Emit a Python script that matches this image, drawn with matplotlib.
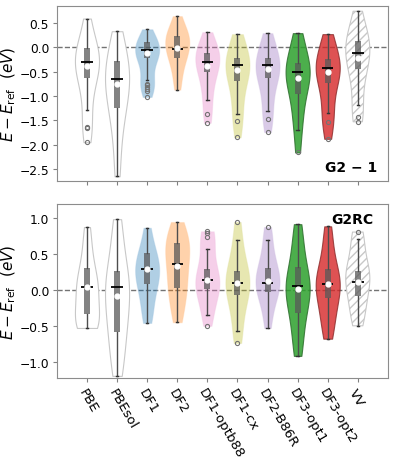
import numpy as np
import matplotlib
matplotlib.use("Agg")
import matplotlib.pyplot as plt

# functionals on the x axis
methods = ["PBE", "PBEsol", "DF1", "DF2", "DF1-optb88", "DF1-cx",
           "DF2-B86R", "DF3-opt1", "DF3-opt2", "VV"]

# ---------------- G2-1 (top panel) ----------------
g21_samples = [
    [0.59, 0.35, 0.1, 0.0, -0.05, -0.15, -0.25, -0.3, -0.35, -0.45, -0.55, -0.65, -0.8, -1.0, -1.29, -1.63, -1.65, -1.95],
    [0.33, 0.1, -0.1, -0.3, -0.4, -0.55, -0.65, -0.75, -0.9, -1.05, -1.25, -1.4, -1.7, -2.1, -2.65],
    [0.37, 0.25, 0.15, 0.1, 0.05, 0.0, -0.05, -0.1, -0.15, -0.2, -0.25, -0.35, -0.5, -0.67, -0.75, -0.8, -0.88, -1.02],
    [0.64, 0.45, 0.3, 0.25, 0.2, 0.1, 0.0, -0.05, -0.15, -0.25, -0.4, -0.6, -0.87],
    [0.31, 0.1, 0.0, -0.1, -0.15, -0.2, -0.3, -0.35, -0.45, -0.55, -0.7, -0.9, -1.09, -1.37, -1.55],
    [0.27, 0.1, -0.05, -0.2, -0.25, -0.35, -0.4, -0.5, -0.6, -0.7, -0.9, -1.1, -1.38, -1.52, -1.85],
    [0.29, 0.1, -0.05, -0.2, -0.25, -0.35, -0.4, -0.5, -0.6, -0.65, -0.85, -1.05, -1.3, -1.47, -1.74],
    [0.29, 0.1, -0.1, -0.3, -0.35, -0.45, -0.5, -0.6, -0.7, -0.85, -0.95, -1.2, -1.45, -1.69, -2.16],
    [0.27, 0.1, -0.1, -0.2, -0.3, -0.4, -0.45, -0.55, -0.65, -0.75, -0.95, -1.2, -1.45, -1.53, -1.88],
    [0.74, 0.5, 0.3, 0.15, 0.1, 0.0, -0.1, -0.2, -0.3, -0.45, -0.6, -0.85, -1.19, -1.43, -1.53],
]
g21_q1 = [-0.63, -1.25, -0.23, -0.23, -0.51, -0.70, -0.64, -0.96, -0.74, -0.45]
g21_med = [-0.31, -0.65, -0.06, -0.03, -0.30, -0.37, -0.37, -0.51, -0.43, -0.11]
g21_q3 = [-0.02, -0.29, 0.10, 0.24, -0.12, -0.21, -0.21, -0.33, -0.24, 0.12]
g21_lo = [-1.29, -2.65, -0.67, -0.87, -1.09, -1.38, -1.30, -1.69, -1.35, -1.19]
g21_hi = [0.59, 0.33, 0.37, 0.64, 0.31, 0.27, 0.29, 0.29, 0.27, 0.74]
g21_mean = [-0.38, -0.75, -0.12, -0.02, -0.38, -0.47, -0.45, -0.63, -0.51, -0.22]
g21_fliers = [[-1.63, -1.66, -1.95], [], [-0.75, -0.78, -0.82, -0.86, -0.90, -1.02], [],
              [-1.37, -1.55], [-1.52, -1.85], [-1.47, -1.74], [-2.16], [-1.53, -1.88], [-1.43, -1.53]]

# ---------------- G2RC (bottom panel) ----------------
g2rc_samples = [
    [0.88, 0.65, 0.45, 0.3, 0.2, 0.1, 0.05, 0.0, -0.1, -0.2, -0.3, -0.38, -0.45, -0.5, -0.53, -0.53],
    [0.99, 0.75, 0.5, 0.3, 0.2, 0.1, 0.0, -0.1, -0.2, -0.35, -0.5, -0.6, -0.8, -1.0, -1.2],
    [0.87, 0.65, 0.52, 0.45, 0.35, 0.3, 0.25, 0.15, 0.08, 0.0, -0.15, -0.3, -0.46],
    [0.95, 0.8, 0.7, 0.65, 0.55, 0.45, 0.37, 0.25, 0.1, 0.03, -0.1, -0.25, -0.45],
    [0.82, 0.79, 0.74, 0.58, 0.4, 0.29, 0.2, 0.15, 0.1, 0.05, 0.01, -0.1, -0.2, -0.35, -0.5],
    [0.95, 0.7, 0.5, 0.35, 0.27, 0.2, 0.1, 0.05, 0.0, -0.07, -0.2, -0.35, -0.57, -0.74],
    [0.88, 0.7, 0.5, 0.35, 0.31, 0.2, 0.12, 0.08, 0.03, -0.03, -0.15, -0.3, -0.53],
    [0.92, 0.7, 0.5, 0.32, 0.2, 0.1, 0.05, 0.0, -0.1, -0.2, -0.32, -0.5, -0.7, -0.92],
    [0.89, 0.65, 0.45, 0.29, 0.2, 0.12, 0.08, 0.0, -0.11, -0.2, -0.35, -0.5, -0.68],
    [0.81, 0.72, 0.5, 0.35, 0.27, 0.2, 0.11, 0.05, -0.08, -0.2, -0.35, -0.5],
]
g2rc_q1 = [-0.33, -0.58, 0.08, 0.03, 0.01, -0.07, -0.03, -0.32, -0.11, -0.08]
g2rc_med = [0.04, 0.04, 0.30, 0.37, 0.14, 0.10, 0.10, 0.06, 0.08, 0.11]
g2rc_q3 = [0.31, 0.27, 0.52, 0.66, 0.29, 0.27, 0.31, 0.32, 0.29, 0.27]
g2rc_lo = [-0.53, -1.20, -0.46, -0.45, -0.35, -0.57, -0.53, -0.92, -0.68, -0.50]
g2rc_hi = [0.88, 0.99, 0.87, 0.95, 0.58, 0.70, 0.70, 0.92, 0.89, 0.72]
g2rc_mean = [0.04, -0.09, 0.29, 0.33, 0.14, 0.10, 0.12, 0.02, 0.09, 0.11]
g2rc_fliers = [[], [], [], [], [0.74, 0.79, 0.82, -0.50], [0.95, -0.74], [0.88], [], [], [0.81]]

# violin styles
face_colors = ["white", "white", "tab:blue", "tab:orange", "tab:pink", "tab:olive",
               "tab:purple", "tab:green", "tab:red", "white"]
face_alpha = [1.0, 1.0, 0.35, 0.35, 0.35, 0.35, 0.35, 0.85, 0.8, 1.0]
edge_colors = ["#c8c8c8", "#c8c8c8", "#9ec3e0", "#ffc898", "#f0bde0", "#dede9a",
               "#cdbde0", "#2f6f2f", "#8a2a2a", "#c8c8c8"]
hatches = [None] * 9 + ["////"]


def draw_panel(ax, samples, q1, med, q3, lo, hi, mean, fliers, ylim, label, label_pos):
    pos = np.arange(len(methods))
    ax.axhline(0, color="0.45", ls="--", lw=1.0, zorder=0)
    parts = ax.violinplot(samples, positions=pos, widths=0.8, showextrema=False,
                          bw_method=0.5)
    for i, body in enumerate(parts["bodies"]):
        body.set_facecolor(face_colors[i])
        body.set_alpha(face_alpha[i])
        body.set_edgecolor(edge_colors[i])
        body.set_linewidth(0.8)
        if hatches[i]:
            body.set_hatch(hatches[i])
            body.set_edgecolor("#c8c8c8")
    stats = []
    for i in range(len(methods)):
        stats.append(dict(med=med[i], q1=q1[i], q3=q3[i], whislo=lo[i], whishi=hi[i],
                          mean=mean[i], fliers=fliers[i]))
    bp = ax.bxp(stats, positions=pos, widths=0.2, patch_artist=True, showmeans=True,
                capwidths=0.08,
                boxprops=dict(facecolor="0.35", edgecolor="none", alpha=0.75),
                whiskerprops=dict(color="0.3", lw=1.0),
                capprops=dict(color="0.2", lw=1.0),
                medianprops=dict(color="black", lw=1.3, solid_capstyle="butt"),
                meanprops=dict(marker="o", markerfacecolor="white", markeredgecolor="white",
                               markersize=3.5),
                flierprops=dict(marker="o", markerfacecolor="none", markeredgecolor="0.45",
                                markersize=3, markeredgewidth=0.8))
    # median lines a bit wider than the box
    for p, ln in zip(pos, bp["medians"]):
        ln.set_xdata([p - 0.19, p + 0.19])
    ax.set_xlim(-1, 10)
    ax.set_ylim(*ylim)
    ax.set_xticks(pos)
    ax.set_ylabel(r"$E-E_{\rm ref}\ \ (eV)$", fontsize=11)
    ax.yaxis.set_label_coords(-0.118, 0.5)
    ax.tick_params(labelsize=8.8, color="0.5", length=3, pad=2.5)
    for sp in ax.spines.values():
        sp.set_color("0.55")
    ax.text(label_pos[0], label_pos[1], label, transform=ax.transAxes, fontsize=10,
            fontweight="bold", ha="right", va=label_pos[2])


fig = plt.figure(figsize=(3.95, 4.6), dpi=100)
ax1 = fig.add_axes([0.144, 0.604, 0.838, 0.381])
ax2 = fig.add_axes([0.144, 0.176, 0.838, 0.378])

draw_panel(ax1, g21_samples, g21_q1, g21_med, g21_q3, g21_lo, g21_hi, g21_mean,
           g21_fliers, (-2.75, 0.85), "G2 \u2212 1", (0.967, 0.04, "bottom"))
draw_panel(ax2, g2rc_samples, g2rc_q1, g2rc_med, g2rc_q3, g2rc_lo, g2rc_hi, g2rc_mean,
           g2rc_fliers, (-1.23, 1.2), "G2RC", (0.955, 0.955, "top"))

ax1.set_yticks([0.5, 0.0, -0.5, -1.0, -1.5, -2.0, -2.5])
ax1.set_xticklabels([])
ax2.set_yticks([1.0, 0.5, 0.0, -0.5, -1.0])
ax2.set_xticklabels(methods, rotation=-60, ha="left", va="top", rotation_mode="anchor",
                    fontsize=9.5)

fig.savefig("out.png", dpi=100)
